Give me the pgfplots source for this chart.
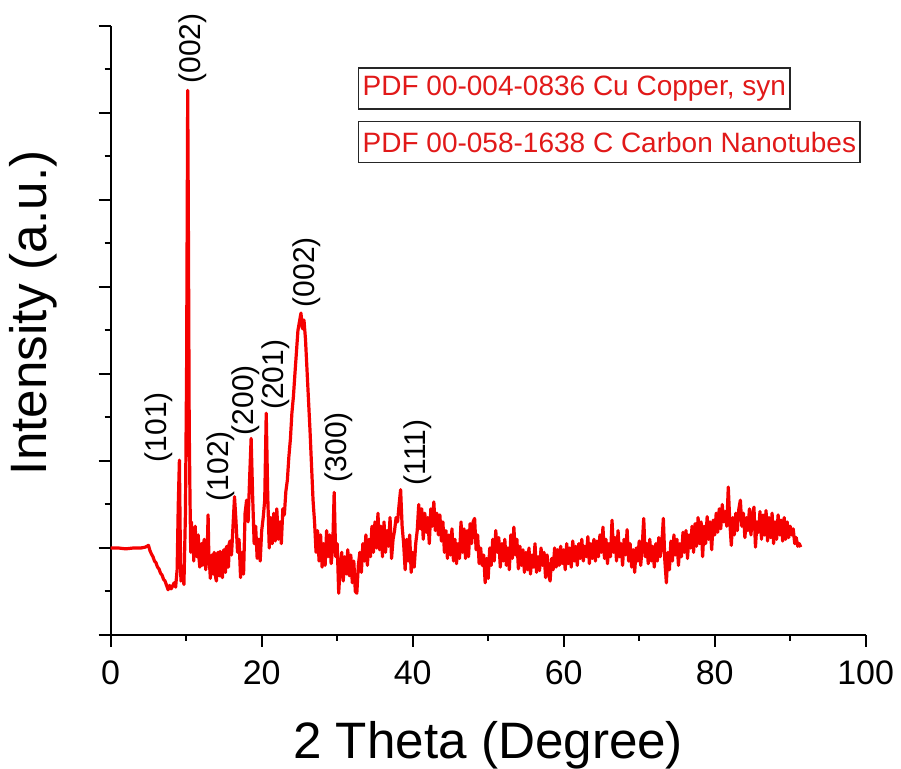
\documentclass[border=0pt]{standalone}
\usepackage{fontspec}
\setmainfont{Liberation Sans}
\usepackage{pgfplots}
\usepackage{pgfplotstable}
\pgfplotsset{compat=1.18}
\definecolor{xrdred}{RGB}{245,0,0}
\definecolor{boxtext}{RGB}{225,25,25}
\pgfplotstableread{
x y
0 1.00
1 1.00
2 0.99
3 1.00
4 1.00
4.6 1.01
5.0 1.03
5.2 0.97
5.4 0.93
5.6 0.90
5.8 0.85
6.0 0.83
6.2 0.78
6.4 0.76
6.6 0.71
6.8 0.69
7.0 0.64
7.2 0.62
7.4 0.57
7.6 0.52
7.8 0.57
8.0 0.53
8.2 0.56
8.4 0.60
8.6 0.55
8.8 0.75
8.95 1.50
9.1 2.01
9.2 1.20
9.3 0.62
9.5 0.75
9.7 0.58
9.9 1.40
10.05 3.0
10.2 6.26
10.3 4.5
10.4 2.4
10.5 1.6
10.6 0.95
10.7 1.30
10.8 1.05
10.9 1.20
11.0 0.85
11.1 1.10
11.2 1.25
11.3 0.95
11.4 0.90
11.5 1.08
11.6 1.15
11.7 0.88
11.8 0.78
11.9 1.00
12.0 1.05
12.1 0.80
12.2 0.82
12.3 1.05
12.4 1.10
12.5 0.85
12.6 0.75
12.7 0.98
12.8 1.02
12.9 1.38
13.0 0.90
13.1 0.80
13.2 0.65
13.3 0.85
13.4 0.92
13.5 0.72
13.6 0.70
13.7 0.95
13.8 0.88
13.9 0.66
14.0 0.62
14.1 0.90
14.2 0.95
14.3 0.70
14.4 0.68
14.5 0.96
14.6 0.90
14.7 0.68
14.8 0.66
14.9 0.95
15.0 0.98
15.1 0.74
15.2 0.72
15.3 1.00
15.4 1.02
15.5 0.78
15.6 0.78
15.7 1.05
15.8 1.08
16.0 0.92
16.2 1.25
16.4 1.59
16.6 1.30
16.8 0.95
17.0 1.10
17.2 0.66
17.4 0.95
17.6 0.70
17.8 1.40
18.0 1.55
18.2 1.30
18.4 1.80
18.6 2.26
18.8 1.60
19.0 1.05
19.2 1.25
19.4 0.88
19.6 1.10
19.8 0.85
20.0 1.20
20.2 1.35
20.4 1.55
20.6 2.55
20.8 1.60
21.0 1.00
21.2 1.35
21.4 1.05
21.6 1.40
21.8 1.08
22.0 1.45
22.2 1.10
22.4 1.30
22.6 1.05
22.8 1.45
23.0 1.38
23.2 1.65
23.4 1.78
23.6 2.05
23.8 2.25
24.0 2.55
24.2 2.74
24.4 3.00
24.6 3.25
24.8 3.50
25.0 3.60
25.2 3.70
25.4 3.52
25.6 3.62
25.8 3.40
26.0 3.05
26.2 2.70
26.4 2.35
26.6 1.95
26.8 1.55
27.0 1.30
27.2 0.95
27.4 1.20
27.6 0.85
27.8 1.15
28.0 0.78
28.2 1.05
28.4 0.80
28.6 1.20
28.8 0.90
29.0 1.15
29.2 0.82
29.4 1.00
29.6 1.64
29.8 0.90
30.0 1.05
30.2 0.48
30.4 0.80
30.6 0.95
30.8 0.62
31.0 0.90
31.2 0.70
31.4 0.98
31.6 0.68
31.8 0.92
32.0 0.60
32.2 0.85
32.4 0.50
32.6 0.48
32.8 0.80
33.0 0.95
33.2 0.72
33.4 1.05
33.6 0.85
33.8 1.15
34.0 0.80
34.2 1.10
34.4 0.90
34.6 1.25
34.8 0.95
35.0 1.30
35.2 1.00
35.4 1.40
35.6 0.98
35.8 1.25
36.0 0.90
36.2 1.30
36.4 0.95
36.6 1.20
36.8 1.02
37.0 1.35
37.2 0.88
37.4 1.10
37.6 1.20
37.8 1.35
38.0 1.30
38.2 1.50
38.4 1.67
38.6 1.25
38.8 1.05
39.0 0.75
39.2 1.10
39.4 0.85
39.6 1.15
39.8 0.72
40.0 0.95
40.2 0.78
40.4 1.05
40.6 1.20
40.8 1.50
41.0 1.22
41.2 1.45
41.4 1.10
41.6 1.40
41.8 1.18
42.0 1.35
42.2 1.05
42.4 1.45
42.6 1.25
42.8 1.53
43.0 1.20
43.2 1.40
43.4 1.15
43.6 1.38
43.8 1.08
44.0 1.30
44.2 0.95
44.4 1.20
44.6 0.88
44.8 1.15
45.0 0.92
45.2 1.22
45.4 0.85
45.6 1.10
45.8 0.82
46.0 1.05
46.2 0.88
46.4 1.30
46.6 0.95
46.8 1.22
47.0 0.88
47.2 1.20
47.4 0.90
47.6 1.28
47.8 1.05
48.0 1.30
48.2 1.34
48.4 0.98
48.6 1.15
48.8 0.82
49.0 1.00
49.2 0.80
49.4 0.92
49.6 0.60
49.8 0.88
50.0 0.65
50.2 1.00
50.4 0.80
50.6 1.10
50.8 0.85
51.0 1.20
51.2 0.95
51.4 1.12
51.6 0.78
51.8 1.05
52.0 0.85
52.2 1.10
52.4 0.80
52.6 1.00
52.8 0.75
53.0 1.15
53.2 0.88
53.4 1.24
53.6 0.92
53.8 1.10
54.0 0.76
54.2 1.02
54.4 0.80
54.6 0.98
54.8 0.72
55.0 0.95
55.2 0.75
55.4 1.00
55.6 0.70
55.8 0.92
56.0 0.78
56.2 1.05
56.4 0.72
56.6 0.90
56.8 0.74
57.0 1.00
57.2 0.80
57.4 0.95
57.6 0.66
57.8 0.92
58.0 0.70
58.2 0.62
58.4 0.88
58.6 0.75
58.8 1.00
59.0 0.78
59.2 0.98
59.4 0.80
59.6 1.02
59.8 0.82
60.0 0.98
60.2 0.75
60.4 1.05
60.6 0.82
60.8 1.00
61.0 0.78
61.2 1.08
61.4 0.85
61.6 1.02
61.8 0.80
62.0 1.05
62.2 0.88
62.4 1.10
62.6 0.85
62.8 1.02
63.0 0.90
63.2 1.13
63.4 0.82
63.6 1.05
63.8 0.88
64.0 1.10
64.2 0.85
64.4 1.08
64.6 0.90
64.8 1.15
65.0 0.95
65.2 1.24
65.4 0.88
65.6 1.10
65.8 0.82
66.0 1.05
66.2 0.90
66.4 1.32
66.6 0.95
66.8 1.12
67.0 0.85
67.2 1.20
67.4 0.90
67.6 1.05
67.8 0.80
68.0 1.10
68.2 0.92
68.4 1.21
68.6 0.85
68.8 1.05
69.0 0.78
69.2 0.98
69.4 0.72
69.6 1.00
69.8 0.85
70.0 1.08
70.2 0.80
70.4 1.02
70.6 1.34
70.8 0.90
71.0 1.05
71.2 0.82
71.4 1.10
71.6 0.85
71.8 1.02
72.0 0.78
72.2 1.05
72.4 0.85
72.6 1.12
72.8 0.90
73.0 1.05
73.2 1.34
73.4 0.85
73.6 0.60
73.8 0.95
74.0 0.75
74.2 1.08
74.4 0.85
74.6 1.15
74.8 0.92
75.0 1.10
75.2 0.80
75.4 1.05
75.6 0.90
75.8 1.18
76.0 0.95
76.2 1.20
76.4 0.88
76.6 1.15
76.8 1.00
77.0 1.25
77.2 0.95
77.4 1.28
77.6 1.02
77.8 1.35
78.0 1.05
78.2 1.30
78.4 0.90
78.6 1.25
78.8 1.05
79.0 1.36
79.2 1.10
79.4 1.30
79.6 0.98
79.8 1.32
80.0 1.15
80.2 1.40
80.4 1.18
80.6 1.45
80.8 1.22
81.0 1.50
81.2 1.30
81.4 1.42
81.6 1.25
81.8 1.70
82.0 1.30
82.2 1.03
82.4 1.35
82.6 1.15
82.8 1.40
83.0 1.20
83.2 1.45
83.4 1.55
83.6 1.25
83.8 1.40
84.0 1.12
84.2 1.35
84.4 1.20
84.6 1.45
84.8 1.15
85.0 1.38
85.2 1.47
85.4 1.01
85.6 1.30
85.8 1.18
86.0 1.42
86.2 1.10
86.4 1.38
86.6 1.15
86.8 1.43
87.0 1.08
87.2 1.35
87.4 1.12
87.6 1.40
87.8 1.05
88.0 1.30
88.2 1.10
88.4 1.38
88.6 1.15
88.8 1.32
89.0 1.08
89.2 1.35
89.4 1.10
89.6 1.30
89.8 1.12
90.0 1.25
90.2 1.15
90.4 1.22
90.6 1.05
90.8 1.12
91.0 1.02
91.2 1.05
91.4 1.01
}\xrd
\begin{document}
\begin{tikzpicture}
\begin{axis}[
  at={(0,0)}, anchor=south west,
  scale only axis, width=377.5pt, height=304.5pt,
  xmin=0, xmax=100, ymin=0, ymax=7,
  axis x line=bottom, axis y line=left,
  axis line style={-, line width=1pt, black},
  xtick={0,20,...,100}, minor xtick={10,30,...,90},
  ytick={0,...,7}, minor ytick={0.5,1.5,...,6.5}, yticklabels={},
  tick align=outside,
  major tick length=6pt, minor tick length=3pt,
  every tick/.style={black, line width=1pt},
  /pgf/number format/assume math mode=true,
  xticklabel style={font=\fontsize{17}{17}\selectfont, anchor=base, yshift=-19pt},
  xlabel={2 Theta (Degree)}, ylabel={Intensity (a.u.)},
  label style={font=\fontsize{25.6}{26}\selectfont},
  xlabel style={at={(axis description cs:0.5,-0.202)}, anchor=base},
  ylabel style={at={(axis description cs:-0.103,0.529)}, anchor=center},
  clip=false,
]
\addplot[xrdred, line width=1.6pt, line join=round, mark=none] table[x=x,y=y]{\xrd};
\begin{scope}[every node/.style={rotate=90, font=\fontsize{15}{15}\selectfont, black, inner sep=0pt}]
\node at (axis cs:10.9,6.74) {(002)};
\node at (axis cs:6.4,2.39) {(101)};
\node at (axis cs:14.6,1.94) {(102)};
\node at (axis cs:17.9,2.70) {(200)};
\node at (axis cs:21.8,2.99) {(201)};
\node at (axis cs:25.9,4.17) {(002)};
\node at (axis cs:30.2,2.16) {(300)};
\node at (axis cs:40.7,2.10) {(111)};
\end{scope}
\node[draw=black!85, line width=0.75pt, anchor=west, inner xsep=2pt, minimum height=20.5pt, text=boxtext, font=\fontsize{14}{14}\selectfont] at (axis description cs:0.3275,0.8974) {PDF 00-004-0836 Cu Copper, syn};
\node[draw=black!85, line width=0.75pt, anchor=west, inner xsep=2pt, minimum height=20.5pt, text=boxtext, font=\fontsize{14}{14}\selectfont] at (axis description cs:0.3275,0.8095) {PDF 00-058-1638 C Carbon Nanotubes};
\end{axis}
\pgfresetboundingbox
\path[use as bounding box] (-55.35pt,-67pt) rectangle (395.15pt,317.5pt);
\end{tikzpicture}
\end{document}
